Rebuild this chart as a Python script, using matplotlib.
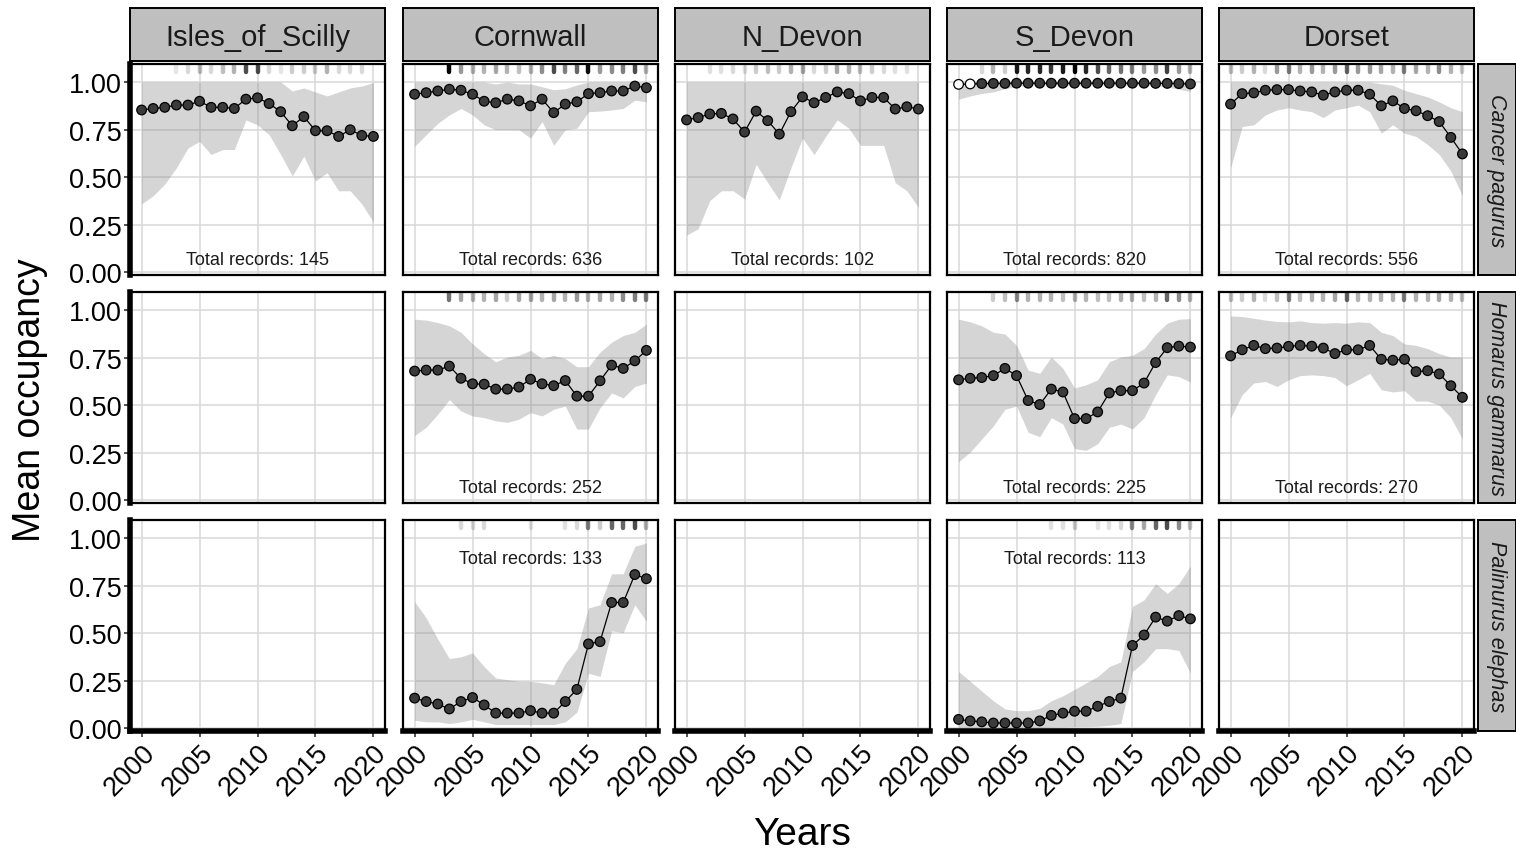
import numpy as np
import matplotlib
matplotlib.use('Agg')
import matplotlib.pyplot as plt

plt.rcParams['font.family'] = ['Liberation Sans', 'DejaVu Sans']

years = list(range(2000, 2021))
sites = ['Isles_of_Scilly', 'Cornwall', 'N_Devon', 'S_Devon', 'Dorset']
species = ['Cancer pagurus', 'Homarus gammarus', 'Palinurus elephas']

# ---- Cancer pagurus ----
scilly_cp_mean = [0.853, 0.861, 0.867, 0.879, 0.879, 0.899, 0.867, 0.867, 0.861, 0.910, 0.917,
                  0.887, 0.844, 0.770, 0.818, 0.744, 0.744, 0.714, 0.749, 0.719, 0.714]
scilly_cp_lo = [0.359, 0.402, 0.463, 0.549, 0.653, 0.688, 0.619, 0.645, 0.645, 0.801, 0.775,
                0.723, 0.619, 0.506, 0.610, 0.480, 0.523, 0.428, 0.428, 0.359, 0.263]
scilly_cp_hi = [1.0, 1.0, 1.0, 1.0, 1.0, 1.0, 1.0, 1.0, 1.0, 1.0, 1.0,
                1.0, 1.0, 0.953, 0.969, 0.948, 0.927, 0.948, 0.969, 0.979, 0.997]
scilly_cp_rug = [0, 0, 0, 0.1, 0.15, 0.25, 0.15, 0.25, 0.3, 0.7, 0.7,
                 0.15, 0.1, 0.2, 0.2, 0.2, 0.3, 0.15, 0.15, 0.15, 0]

cornwall_cp_mean = [0.936, 0.944, 0.953, 0.962, 0.957, 0.936, 0.899, 0.891, 0.910, 0.901, 0.875,
                    0.910, 0.839, 0.884, 0.896, 0.939, 0.944, 0.953, 0.953, 0.979, 0.970]
cornwall_cp_lo = [0.662, 0.723, 0.783, 0.827, 0.861, 0.827, 0.775, 0.749, 0.749, 0.749, 0.705,
                  0.792, 0.667, 0.749, 0.757, 0.844, 0.847, 0.853, 0.861, 0.905, 0.896]
cornwall_cp_hi = [1.0, 1.0, 1.0, 1.0, 1.0, 1.0, 1.0, 0.99, 1.0, 0.99, 0.99,
                  0.975, 0.96, 0.965, 0.985, 1.0, 1.0, 1.0, 1.0, 1.0, 1.0]
cornwall_cp_rug = [0, 0, 0, 1.0, 0.4, 0.3, 0.3, 0.35, 0.3, 0.25, 0.3,
                   0.45, 0.7, 0.5, 0.6, 0.95, 0.4, 0.45, 0.5, 0.7, 0.3]

ndevon_cp_mean = [0.801, 0.813, 0.832, 0.835, 0.806, 0.737, 0.847, 0.797, 0.726, 0.844, 0.922,
                  0.891, 0.919, 0.948, 0.939, 0.901, 0.919, 0.919, 0.858, 0.870, 0.858]
ndevon_cp_lo = [0.194, 0.229, 0.376, 0.428, 0.428, 0.385, 0.567, 0.471, 0.380, 0.549, 0.705,
                0.619, 0.714, 0.801, 0.757, 0.667, 0.667, 0.667, 0.471, 0.428, 0.341]
ndevon_cp_hi = [1.0] * 21
ndevon_cp_rug = [0, 0, 0.12, 0.12, 0.15, 0.12, 0.2, 0.25, 0.2, 0.3, 0.35,
                 0.15, 0.2, 0.35, 0.3, 0.25, 0.2, 0.15, 0.12, 0.12, 0]

sdevon_cp_mean = [0.988, 0.990, 0.992, 0.993, 0.993, 0.994, 0.994, 0.994, 0.994, 0.994, 0.994,
                  0.994, 0.994, 0.994, 0.994, 0.994, 0.994, 0.993, 0.993, 0.992, 0.990]
sdevon_cp_lo = [0.91, 0.927, 0.94, 0.948, 0.965, 0.977, 0.985, 0.985, 0.985, 0.985, 0.985,
                0.985, 0.985, 0.985, 0.985, 0.985, 0.985, 0.982, 0.974, 0.962, 0.951]
sdevon_cp_hi = [1.0] * 21
sdevon_cp_rug = [0, 0, 0.15, 0.3, 0.2, 0.9, 0.85, 0.85, 0.8, 0.9, 1.0,
                 0.85, 0.7, 0.6, 0.55, 0.5, 0.4, 0.45, 0.75, 0.4, 0.3]
sdevon_cp_hollow = [2000, 2001]

dorset_cp_mean = [0.884, 0.939, 0.943, 0.957, 0.960, 0.960, 0.953, 0.948, 0.931, 0.948, 0.957,
                  0.957, 0.936, 0.875, 0.901, 0.861, 0.849, 0.823, 0.792, 0.709, 0.622]
dorset_cp_lo = [0.549, 0.766, 0.775, 0.827, 0.853, 0.865, 0.853, 0.844, 0.813, 0.853, 0.865,
                0.879, 0.844, 0.731, 0.775, 0.731, 0.714, 0.671, 0.619, 0.532, 0.402]
dorset_cp_hi = [1.0, 1.0, 1.0, 1.0, 1.0, 1.0, 1.0, 1.0, 1.0, 1.0, 1.0,
                1.0, 1.0, 0.991, 0.983, 0.957, 0.939, 0.922, 0.896, 0.865, 0.844]
dorset_cp_rug = [0.25, 0.2, 0.3, 0.15, 0.4, 0.5, 0.3, 0.4, 0.3, 0.4, 0.6,
                 0.4, 0.4, 0.35, 0.3, 0.5, 0.35, 0.3, 0.45, 0.3, 0.2]

# ---- Homarus gammarus ----
cornwall_hg_mean = [0.679, 0.684, 0.684, 0.705, 0.641, 0.612, 0.610, 0.584, 0.584, 0.595, 0.636,
                    0.612, 0.602, 0.629, 0.547, 0.547, 0.628, 0.710, 0.693, 0.733, 0.788]
cornwall_hg_lo = [0.340, 0.383, 0.452, 0.529, 0.469, 0.443, 0.434, 0.417, 0.409, 0.426, 0.460,
                  0.443, 0.478, 0.495, 0.374, 0.374, 0.486, 0.564, 0.538, 0.598, 0.616]
cornwall_hg_hi = [0.952, 0.947, 0.934, 0.917, 0.883, 0.822, 0.771, 0.728, 0.753, 0.762, 0.788,
                  0.745, 0.762, 0.745, 0.702, 0.702, 0.779, 0.831, 0.866, 0.883, 0.926]
cornwall_hg_rug = [0, 0, 0, 0.55, 0.35, 0.3, 0.3, 0.35, 0.2, 0.35, 0.35,
                   0.3, 0.35, 0.3, 0.4, 0.3, 0.35, 0.3, 0.45, 0.5, 0.5]

sdevon_hg_mean = [0.633, 0.641, 0.645, 0.655, 0.693, 0.655, 0.524, 0.503, 0.584, 0.569, 0.429,
                  0.429, 0.464, 0.564, 0.576, 0.576, 0.616, 0.724, 0.802, 0.810, 0.805]
sdevon_hg_lo = [0.202, 0.253, 0.322, 0.391, 0.478, 0.495, 0.357, 0.334, 0.434, 0.400, 0.271,
                0.262, 0.297, 0.383, 0.400, 0.374, 0.434, 0.555, 0.659, 0.650, 0.621]
sdevon_hg_hi = [0.952, 0.938, 0.917, 0.883, 0.874, 0.814, 0.684, 0.667, 0.753, 0.693, 0.590,
                0.607, 0.633, 0.728, 0.753, 0.762, 0.797, 0.874, 0.931, 0.952, 0.955]
sdevon_hg_rug = [0, 0, 0, 0.2, 0.25, 0.45, 0.3, 0.3, 0.3, 0.25, 0.3,
                 0.3, 0.25, 0.25, 0.3, 0.3, 0.25, 0.3, 0.6, 0.45, 0.3]

dorset_hg_mean = [0.759, 0.791, 0.814, 0.797, 0.800, 0.809, 0.814, 0.810, 0.800, 0.771, 0.791,
                  0.791, 0.814, 0.741, 0.736, 0.741, 0.676, 0.681, 0.664, 0.602, 0.541]
dorset_hg_lo = [0.434, 0.555, 0.616, 0.624, 0.598, 0.633, 0.655, 0.659, 0.655, 0.645, 0.602,
                0.633, 0.667, 0.581, 0.569, 0.576, 0.521, 0.521, 0.500, 0.434, 0.322]
dorset_hg_hi = [0.969, 0.966, 0.957, 0.947, 0.940, 0.938, 0.943, 0.934, 0.931, 0.934, 0.931,
                0.938, 0.934, 0.883, 0.866, 0.822, 0.814, 0.797, 0.771, 0.753, 0.753]
dorset_hg_rug = [0.25, 0.2, 0.3, 0.15, 0.25, 0.5, 0.25, 0.3, 0.3, 0.35, 0.6,
                 0.3, 0.3, 0.3, 0.3, 0.5, 0.3, 0.3, 0.35, 0.3, 0.25]

# ---- Palinurus elephas ----
cornwall_pe_mean = [0.158, 0.140, 0.127, 0.101, 0.140, 0.161, 0.122, 0.079, 0.079, 0.079, 0.092,
                    0.079, 0.079, 0.140, 0.204, 0.443, 0.455, 0.661, 0.661, 0.808, 0.786]
cornwall_pe_lo = [0.041, 0.033, 0.033, 0.024, 0.033, 0.046, 0.033, 0.019, 0.019, 0.019, 0.019,
                  0.019, 0.019, 0.033, 0.084, 0.289, 0.272, 0.512, 0.503, 0.649, 0.563]
cornwall_pe_hi = [0.666, 0.580, 0.469, 0.366, 0.375, 0.396, 0.324, 0.264, 0.255, 0.247, 0.247,
                  0.238, 0.229, 0.341, 0.418, 0.632, 0.649, 0.812, 0.812, 0.957, 0.974]
cornwall_pe_rug = [0, 0, 0, 0, 0.15, 0.15, 0.15, 0, 0, 0, 0.1,
                   0, 0, 0.12, 0.15, 0.5, 0.2, 0.6, 0.6, 0.7, 0.3]

sdevon_pe_mean = [0.046, 0.038, 0.033, 0.027, 0.027, 0.027, 0.027, 0.038, 0.067, 0.079, 0.089,
                  0.089, 0.115, 0.140, 0.158, 0.435, 0.490, 0.584, 0.563, 0.592, 0.575]
sdevon_pe_lo = [0.005, 0.003, 0.002, 0.002, 0.002, 0.002, 0.002, 0.003, 0.005, 0.006, 0.008,
                0.008, 0.010, 0.015, 0.024, 0.298, 0.349, 0.418, 0.418, 0.409, 0.289]
sdevon_pe_hi = [0.298, 0.247, 0.195, 0.144, 0.101, 0.092, 0.092, 0.104, 0.144, 0.170, 0.204,
                0.238, 0.272, 0.324, 0.349, 0.640, 0.675, 0.760, 0.709, 0.760, 0.854]
sdevon_pe_rug = [0, 0, 0, 0, 0, 0, 0, 0, 0.12, 0.12, 0.2,
                 0, 0.1, 0.12, 0.15, 0.45, 0.35, 0.6, 0.7, 0.45, 0.25]

panels = {
    ('Cancer pagurus', 'Isles_of_Scilly'): (scilly_cp_mean, scilly_cp_lo, scilly_cp_hi, scilly_cp_rug, 145, []),
    ('Cancer pagurus', 'Cornwall'): (cornwall_cp_mean, cornwall_cp_lo, cornwall_cp_hi, cornwall_cp_rug, 636, []),
    ('Cancer pagurus', 'N_Devon'): (ndevon_cp_mean, ndevon_cp_lo, ndevon_cp_hi, ndevon_cp_rug, 102, []),
    ('Cancer pagurus', 'S_Devon'): (sdevon_cp_mean, sdevon_cp_lo, sdevon_cp_hi, sdevon_cp_rug, 820, sdevon_cp_hollow),
    ('Cancer pagurus', 'Dorset'): (dorset_cp_mean, dorset_cp_lo, dorset_cp_hi, dorset_cp_rug, 556, []),
    ('Homarus gammarus', 'Cornwall'): (cornwall_hg_mean, cornwall_hg_lo, cornwall_hg_hi, cornwall_hg_rug, 252, []),
    ('Homarus gammarus', 'S_Devon'): (sdevon_hg_mean, sdevon_hg_lo, sdevon_hg_hi, sdevon_hg_rug, 225, []),
    ('Homarus gammarus', 'Dorset'): (dorset_hg_mean, dorset_hg_lo, dorset_hg_hi, dorset_hg_rug, 270, []),
    ('Palinurus elephas', 'Cornwall'): (cornwall_pe_mean, cornwall_pe_lo, cornwall_pe_hi, cornwall_pe_rug, 133, []),
    ('Palinurus elephas', 'S_Devon'): (sdevon_pe_mean, sdevon_pe_lo, sdevon_pe_hi, sdevon_pe_rug, 113, []),
}

W, H = 1516, 853
fig = plt.figure(figsize=(W / 100, H / 100), dpi=100)

def fbox(x0, y0, x1, y1):
    # pixel box (top-left origin) -> figure fraction [l, b, w, h]
    return [x0 / W, 1 - y1 / H, (x1 - x0) / W, (y1 - y0) / H]

col_x = [130, 403, 675, 947, 1219]
row_y = [65, 293, 521]
pw, ph = 255, 211
years_arr = np.array(years)

for r, sp in enumerate(species):
    for c, site in enumerate(sites):
        ax = fig.add_axes(fbox(col_x[c], row_y[r], col_x[c] + pw, row_y[r] + ph))
        ax.set_xlim(1999, 2021)
        ax.set_ylim(-0.015, 1.095)
        ax.set_xticks([2000, 2005, 2010, 2015, 2020])
        ax.set_yticks([0, 0.25, 0.5, 0.75, 1.0])
        ax.grid(True, color='#d9d9d9', linewidth=1.1)
        ax.set_axisbelow(True)
        for s in ax.spines.values():
            s.set_linewidth(1.6)
            s.set_color('black')
        ax.tick_params(length=4, width=1.2, color='#333333', labelsize=19.5, pad=2,
                       labelcolor='black')
        if c == 0:
            ax.spines['left'].set_linewidth(4)
            ax.set_yticklabels(['0.00', '0.25', '0.50', '0.75', '1.00'])
        else:
            ax.tick_params(axis='y', length=0, labelleft=False)
        if r == 2:
            ax.spines['bottom'].set_linewidth(4)
            ax.set_xticklabels([str(y) for y in [2000, 2005, 2010, 2015, 2020]],
                               rotation=45, ha='right', rotation_mode='anchor')
        else:
            ax.tick_params(axis='x', length=0, labelbottom=False)

        key = (sp, site)
        if key in panels:
            mean, lo, hi, rug, total, hollow = panels[key]
            ax.fill_between(years_arr, lo, hi, color='#808080', alpha=0.33, linewidth=0, zorder=2)
            ax.plot(years_arr, mean, color='black', linewidth=0.9, zorder=3)
            fills = ['white' if y in hollow else '#3a3a3a' for y in years]
            ax.scatter(years_arr, mean, s=48, c=fills, edgecolors='black', linewidths=0.9, zorder=4)
            for y, a in zip(years, rug):
                if a > 0:
                    ax.vlines(y, 1.052, 1.088, color='black', alpha=a, linewidth=3.2,
                              capstyle='round', zorder=3)
            ty = 0.89 if sp == 'Palinurus elephas' else 0.065
            ax.text(2010, ty, 'Total records: %d' % total, ha='center', va='center',
                    fontsize=13, color='#1a1a1a', zorder=5)

        # top strips
        if r == 0:
            sax = fig.add_axes(fbox(col_x[c], 9, col_x[c] + pw, 62))
            sax.set_facecolor('#bfbfbf')
            sax.set_xticks([])
            sax.set_yticks([])
            for s in sax.spines.values():
                s.set_linewidth(1.4)
            sax.text(0.5, 0.46, site, ha='center', va='center', fontsize=21,
                     color='#1a1a1a', transform=sax.transAxes)
        # right strips
        if c == 4:
            sax = fig.add_axes(fbox(1478, row_y[r], 1516, row_y[r] + ph))
            sax.set_facecolor('#bfbfbf')
            sax.set_xticks([])
            sax.set_yticks([])
            for s in sax.spines.values():
                s.set_linewidth(1.4)
            sax.text(0.5, 0.5, sp, ha='center', va='center', fontsize=15.5, style='italic',
                     rotation=-90, color='#1a1a1a', transform=sax.transAxes)

fig.text(30 / W, 1 - 400 / H, 'Mean occupancy', rotation=90, ha='center', va='center', fontsize=27)
fig.text(802 / W, 1 - 835 / H, 'Years', ha='center', va='center', fontsize=28)

fig.savefig('out.png', dpi=100)
